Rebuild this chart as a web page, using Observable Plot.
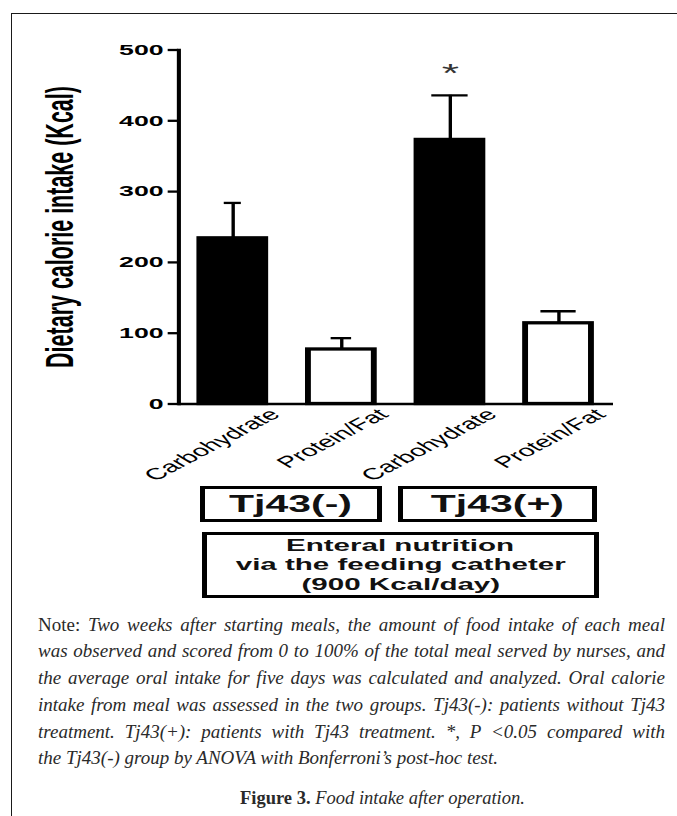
<!DOCTYPE html>
<html>
<head>
<meta charset="utf-8">
<script src="https://cdn.jsdelivr.net/npm/d3@7"></script>
<script src="https://cdn.jsdelivr.net/npm/@observablehq/plot@0.6"></script>
<style>
  body { margin: 0; background: #fff; }
  #page { position: relative; width: 677px; height: 816px; overflow: hidden; background: #fff;
          font-family: "Liberation Sans", Arial, sans-serif; }
  #frame { position: absolute; left: 11px; top: 13px; width: 900px; height: 900px;
           border-left: 1.6px solid #1a1a1a; border-top: 1.6px solid #1a1a1a; z-index: 5; pointer-events: none; }
  #chart { position: absolute; left: 0; top: 0; }
  .box { position: absolute; box-sizing: border-box; border: solid #000; border-width: 3.3px 5.5px;
         display: flex; flex-direction: column; align-items: center; justify-content: center;
         font-weight: bold; color: #111; }
  .stretch { display: inline-block; transform: scaleX(1.78); white-space: nowrap; }
  .big { font-size: 23px; line-height: 26px; }
  .small { font-size: 16.6px; line-height: 19.5px; }
  .note { position: absolute; left: 38px; width: 627px; top: 611.5px;
          font-family: "Liberation Serif", "Times New Roman", serif; font-size: 19px; color: #2a2a2a; }
  .line { height: 26.8px; line-height: 26.8px; text-align: justify; text-align-last: justify; }
  .line.last { text-align: left; text-align-last: left; }
  i { font-style: italic; }
  .fig { position: absolute; left: 240px; top: 784.5px; height: 27px; line-height: 27px;
         font-family: "Liberation Serif", "Times New Roman", serif; font-size: 18.5px; color: #2a2a2a; white-space: nowrap; }
</style>
</head>
<body>
<div id="page">
  <div id="chart"></div>
  <div id="frame"></div>
  <div class="box" id="boxNeg" style="left:200px; top:485.5px; width:181.7px; height:36.2px;"></div>
  <div class="box" id="boxPos" style="left:398px; top:485.5px; width:198.7px; height:36.2px;"></div>
  <div class="box" id="boxEn" style="left:201.7px; top:531.7px; width:397.3px; height:66.3px;"></div>
  <div class="note" id="note"></div>
  <div class="fig" id="fig"></div>
</div>
<script>
// ---- data ----
const groups = ["Tj43(-)", "Tj43(-)", "Tj43(+)", "Tj43(+)"];
const nutrients = ["Carbohydrate", "Protein/Fat", "Carbohydrate", "Protein/Fat"];
const meanIntake = [234, 77, 373, 114];
const upperError = [284, 93, 436, 131];
const significance = ["", "", "*", ""];
const yTicks = [0, 100, 200, 300, 400, 500];
const yLabel = "Dietary calorie intake (Kcal)";
const groupLabels = ["Tj43(-)", "Tj43(+)"];
const enteralLines = ["Enteral nutrition", "via the feeding catheter", "(900 Kcal/day)"];
const noteLead = "Note:";
const noteLines = [
  "Two weeks after starting meals, the amount of food intake of each meal",
  "was observed and scored from 0 to 100% of the total meal served by nurses, and",
  "the average oral intake for five days was calculated and analyzed. Oral calorie",
  "intake from meal was assessed in the two groups. Tj43(-): patients without Tj43",
  "treatment. Tj43(+): patients with Tj43 treatment. *, P <0.05 compared with",
  "the Tj43(-) group by ANOVA with Bonferroni’s post-hoc test."
];
const figLead = "Figure 3.";
const figTitle = "Food intake after operation.";

// ---- styles / layout ----
const S = 1.78;                 // horizontal stretch of the original figure
const W = 677 / S;
const H = 484;
const capWidths = [9.7, 11.6, 20.5, 19.9];
const marginLeft = 178 / S;
const marginRight = W - 613 / S;
const bandwidth = 37.1;
const step = (W - marginLeft - marginRight) / 4;
const paddingInner = 1 - bandwidth / step;
const paddingOuter = paddingInner / 2;

const data = groups.map((g, i) => ({
  key: g + " " + nutrients[i], group: g, nutrient: nutrients[i],
  mean: meanIntake[i], upper: upperError[i], sig: significance[i]
}));
const keyToNutrient = new Map(data.map(d => [d.key, d.nutrient]));

const capMarks = data.map((d, i) => Plot.tickY([d], {
  x: "key", y: "upper", stroke: "#000", strokeWidth: 2.3,
  insetLeft: (bandwidth - capWidths[i]) / 2, insetRight: (bandwidth - capWidths[i]) / 2
}));

const plot = Plot.plot({
  width: W, height: H,
  marginLeft, marginRight, marginTop: 49.5, marginBottom: H - 403.5,
  style: { fontFamily: "Liberation Sans, Arial, sans-serif", background: "transparent", color: "#000" },
  x: { domain: data.map(d => d.key), paddingInner, paddingOuter },
  y: { domain: [0, 500] },
  color: { domain: ["Carbohydrate", "Protein/Fat"], range: ["#000", "#fff"] },
  marks: [
    Plot.barY(data, { x: "key", y: "mean", fill: "nutrient", stroke: "#000", strokeWidth: 3.3 }),
    Plot.ruleX(data, { x: "key", y1: "mean", y2: "upper", stroke: "#000", strokeWidth: 1.9 }),
    ...capMarks,
    Plot.text(data.filter(d => d.sig), { x: "key", y: "upper", text: "sig", fontSize: 25, lineAnchor: "bottom", dy: -13, fill: "#333" }),
    Plot.ruleY([0], { stroke: "#000", strokeWidth: 2.3 }),
    Plot.frame({ anchor: "left", stroke: "#000", strokeWidth: 2.3 }),
    Plot.axisY({ ticks: yTicks, tickSize: 5.8, tickPadding: 2.8, fontSize: 15, fontWeight: "bold", label: null, strokeWidth: 2.3 }),
    Plot.axisX({ tickSize: 0, tickRotate: -43, tickFormat: k => keyToNutrient.get(k), fontSize: 16, label: null, dx: 23.5, dy: -4 }),
    Plot.text([yLabel], { frameAnchor: "left", textAnchor: "middle", rotate: -90, dx: -(marginLeft - 60 / S), fontSize: 21.5, fontWeight: "bold", text: d => d, fill: "#000" })
  ]
});
plot.setAttribute("width", 677);
plot.setAttribute("height", H);
plot.setAttribute("preserveAspectRatio", "none");
plot.style.width = "677px";
plot.style.height = H + "px";
plot.style.maxWidth = "none";
plot.style.overflow = "visible";
d3.select(plot).selectAll('g[aria-label="y-axis tick label"] text').attr("font-weight", "bold");
document.getElementById("chart").appendChild(plot);

// ---- boxes ----
function stretchSpan(text, cls) {
  const s = document.createElement("span");
  s.className = "stretch " + cls;
  s.textContent = text;
  return s;
}
document.getElementById("boxNeg").appendChild(stretchSpan(groupLabels[0], "big"));
document.getElementById("boxPos").appendChild(stretchSpan(groupLabels[1], "big"));
const en = document.getElementById("boxEn");
enteralLines.forEach(t => en.appendChild(stretchSpan(t, "small")));

// ---- note ----
const note = document.getElementById("note");
noteLines.forEach((t, i) => {
  const div = document.createElement("div");
  div.className = "line" + (i === noteLines.length - 1 ? " last" : "");
  if (i === 0) {
    div.append(noteLead + " ");
  }
  const it = document.createElement("i");
  it.textContent = t;
  div.appendChild(it);
  note.appendChild(div);
});
const fig = document.getElementById("fig");
const b = document.createElement("b");
b.textContent = figLead;
const fi = document.createElement("i");
fi.textContent = " " + figTitle;
fig.append(b, fi);
</script>
</body>
</html>
